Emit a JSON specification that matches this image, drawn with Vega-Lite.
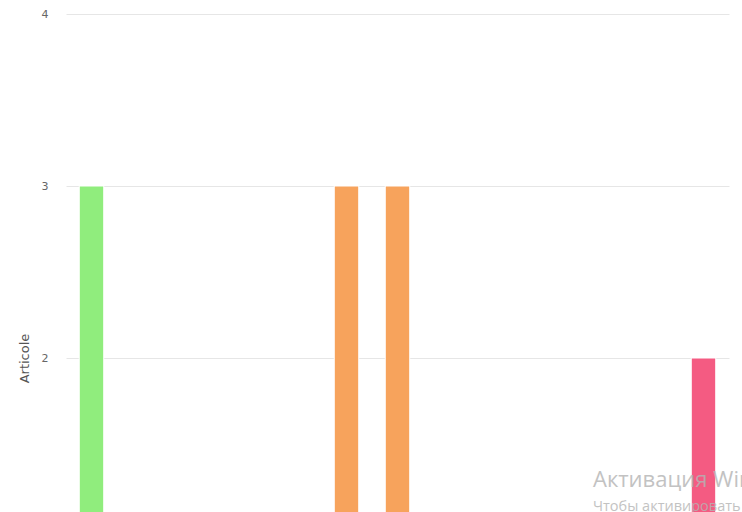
{
  "$schema": "https://vega.github.io/schema/vega-lite/v6.json",
  "width": 663,
  "height": 688,
  "autosize": {"type": "none"},
  "padding": {"left": 66, "top": 14, "right": 13, "bottom": 0},
  "background": "white",
  "config": {"view": {"stroke": null}},
  "datasets": {
    "bars": [
      {"cat": "c1", "articole": 3},
      {"cat": "c6", "articole": 3},
      {"cat": "c7", "articole": 3},
      {"cat": "c13", "articole": 2}
    ],
    "wm1": [{"cat": "c11", "y": 1.25, "text": "Активация Windows"}],
    "wm2": [{"cat": "c11", "y": 1.11, "text": "Чтобы активировать Windows, перейдите в раздел \"Параметры\"."}]
  },
  "encoding": {
    "x": {
      "field": "cat",
      "type": "nominal",
      "scale": {
        "domain": ["c1", "c2", "c3", "c4", "c5", "c6", "c7", "c8", "c9", "c10", "c11", "c12", "c13"],
        "paddingInner": 0,
        "paddingOuter": 0
      },
      "axis": null
    }
  },
  "layer": [
    {
      "data": {"name": "bars"},
      "mark": {"type": "bar", "stroke": "#ffffff", "strokeWidth": 1, "width": {"band": 0.48}},
      "encoding": {
        "y": {
          "field": "articole",
          "type": "quantitative",
          "scale": {"domain": [0, 4]},
          "axis": {
            "title": "Articole",
            "values": [2, 3, 4],
            "format": "d",
            "grid": true,
            "gridColor": "#e6e6e6",
            "gridWidth": 1,
            "domain": false,
            "ticks": false,
            "labelPadding": 18,
            "labelColor": "#666666",
            "labelFontSize": 11,
            "labelFont": "DejaVu Sans",
            "titleColor": "#555555",
            "titleFont": "DejaVu Sans",
            "titleFontSize": 13,
            "titleFontWeight": "normal",
            "titlePadding": 10
          }
        },
        "color": {
          "field": "cat",
          "type": "nominal",
          "scale": {"domain": ["c1", "c6", "c7", "c13"], "range": ["#90ed7d", "#f7a35c", "#f7a35c", "#f45b82"]},
          "legend": null
        }
      }
    },
    {
      "data": {"name": "wm1"},
      "mark": {"type": "text", "align": "left", "baseline": "alphabetic", "font": "Open Sans", "fontSize": 22, "fill": "#b4b4b4", "opacity": 0.8},
      "encoding": {
        "x": {"field": "cat", "type": "nominal", "bandPosition": 0.333},
        "y": {"field": "y", "type": "quantitative"},
        "text": {"field": "text"}
      }
    },
    {
      "data": {"name": "wm2"},
      "mark": {"type": "text", "align": "left", "baseline": "alphabetic", "font": "Open Sans", "fontSize": 14.5, "fill": "#b4b4b4", "opacity": 0.8},
      "encoding": {
        "x": {"field": "cat", "type": "nominal", "bandPosition": 0.333},
        "y": {"field": "y", "type": "quantitative"},
        "text": {"field": "text"}
      }
    }
  ]
}
